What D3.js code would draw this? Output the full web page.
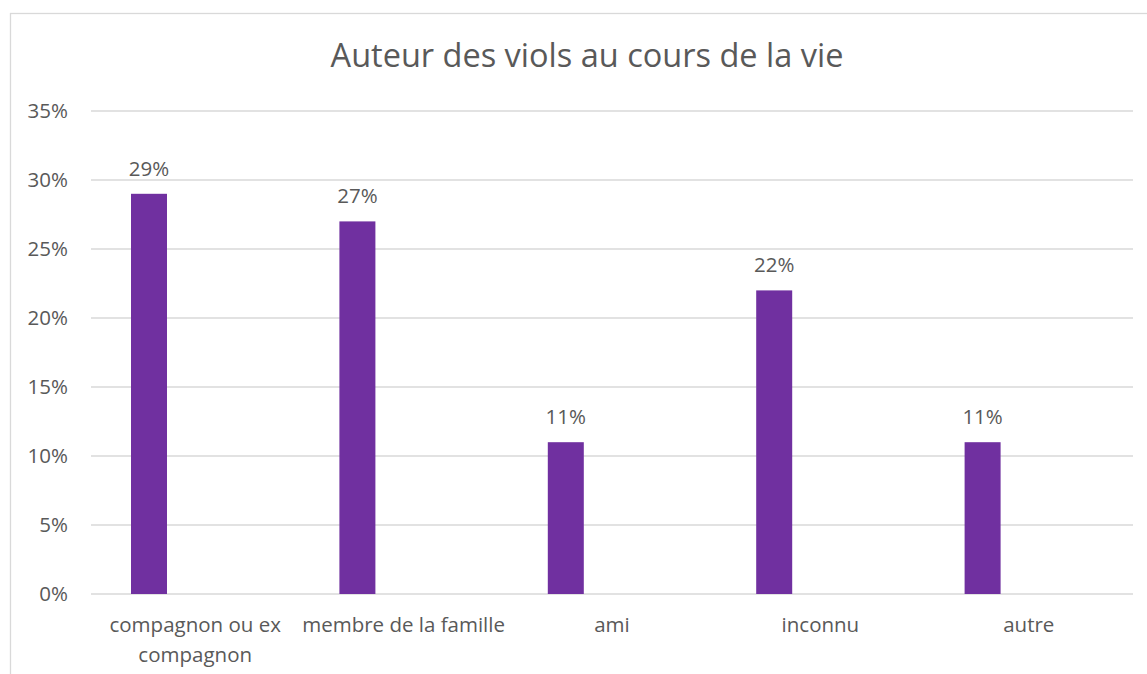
<!DOCTYPE html>
<html>
<head>
<meta charset="utf-8">
<script src="https://cdn.jsdelivr.net/npm/d3@7"></script>
<style>
  body { margin: 0; background: #fff; }
  text { font-family: "Open Sans", sans-serif; fill: #595959; }
</style>
</head>
<body>
<div id="chart"></div>
<script>
const categories = ["compagnon ou ex compagnon", "membre de la famille", "ami", "inconnu", "autre"];
const values = [0.29, 0.27, 0.11, 0.22, 0.11];
const yTicks = [0, 0.05, 0.10, 0.15, 0.20, 0.25, 0.30, 0.35];
const title = "Auteur des viols au cours de la vie";

const W = 1147, H = 674;
const plotL = 91, plotR = 1133, plotT = 111, plotB = 594;
const fs = "20.5px";

const svg = d3.select("#chart").append("svg")
  .attr("width", W)
  .attr("height", H);

// chart frame
svg.append("rect")
  .attr("x", 10.5).attr("y", 13.5)
  .attr("width", W + 10).attr("height", H + 10)
  .attr("fill", "none")
  .attr("stroke", "#d9d9d9")
  .attr("stroke-width", 1.3);

const x = d3.scaleBand().domain(categories).range([plotL, plotR]);
const y = d3.scaleLinear().domain([0, 0.35]).range([plotB, plotT]);

// gridlines
svg.append("g").selectAll("line")
  .data(yTicks)
  .join("line")
  .attr("x1", plotL).attr("x2", plotR)
  .attr("y1", d => y(d)).attr("y2", d => y(d))
  .attr("stroke", "#d9d9d9")
  .attr("stroke-width", 1.3);

// y tick labels
svg.append("g").selectAll("text")
  .data(yTicks)
  .join("text")
  .attr("x", 68)
  .attr("y", d => y(d))
  .attr("dy", "0.35em")
  .attr("text-anchor", "end")
  .style("font-size", fs)
  .text(d3.format(".0%"));

// bars sit in the left part of each band
const barW = 36, barOff = 40;
svg.append("g").selectAll("rect")
  .data(values)
  .join("rect")
  .attr("x", (d, i) => x(categories[i]) + barOff)
  .attr("y", d => y(d))
  .attr("width", barW)
  .attr("height", d => plotB - y(d))
  .attr("fill", "#7030a0");

// value labels
svg.append("g").selectAll("text")
  .data(values)
  .join("text")
  .attr("x", (d, i) => x(categories[i]) + barOff + barW / 2)
  .attr("y", d => y(d) - 18)
  .attr("text-anchor", "middle")
  .style("font-size", fs)
  .text(d3.format(".0%"));

// category labels (wrapped)
const lines = {"compagnon ou ex compagnon": ["compagnon ou ex", "compagnon"]};
const cat = svg.append("g").selectAll("text")
  .data(categories)
  .join("text")
  .attr("x", d => x(d) + x.bandwidth() / 2)
  .attr("y", 632)
  .attr("text-anchor", "middle")
  .style("font-size", fs);
cat.selectAll("tspan")
  .data(d => lines[d] || [d])
  .join("tspan")
  .attr("x", function () { return d3.select(this.parentNode).attr("x"); })
  .attr("dy", (d, i) => i ? 30 : 0)
  .text(d => d);

// title
svg.append("text")
  .attr("x", 587)
  .attr("y", 67)
  .attr("text-anchor", "middle")
  .style("font-size", "32.5px")
  .text(title);
</script>
</body>
</html>
